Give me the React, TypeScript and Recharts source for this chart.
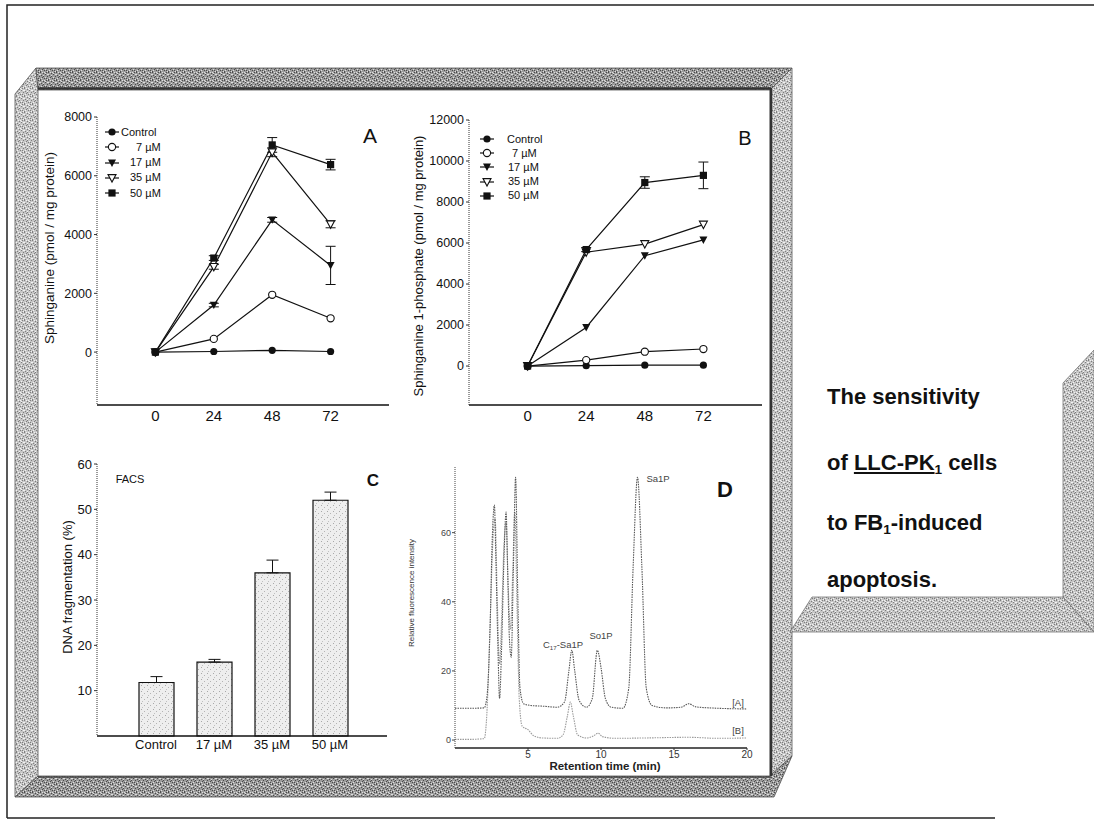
import React from 'react'
import { LineChart, Line, BarChart, Bar, XAxis, YAxis, ErrorBar } from 'recharts'

const FONT = 'Arial, "Liberation Sans", Helvetica, sans-serif'

// panels A and B: time course after FB1 (hours)
const hours = [0, 24, 48, 72]
const doseLabels = ['Control', '7 µM', '17 µM', '35 µM', '50 µM']
const doseKeys = ['ctrl', 'd7', 'd17', 'd35', 'd50']
const doseMarkers = ['dot', 'ring', 'tri', 'triOpen', 'square']

// sphinganine (pmol / mg protein)
const saControl = [0, 20, 60, 20]
const sa7 = [0, 450, 1950, 1150]
const sa17 = [0, 1600, 4500, 2950]
const sa35 = [0, 2900, 6800, 4350]
const sa50 = [0, 3200, 7050, 6380]
const sa17Err = [0, 60, 80, 650]
const sa35Err = [0, 80, 150, 120]
const sa50Err = [0, 80, 250, 180]

// sphinganine 1-phosphate (pmol / mg protein)
const s1pControl = [0, 20, 40, 40]
const s1p7 = [0, 290, 700, 830]
const s1p17 = [0, 1880, 5380, 6150]
const s1p35 = [0, 5550, 5950, 6900]
const s1p50 = [0, 5680, 8950, 9300]
const s1p50Err = [0, 100, 280, 650]

const yTicksA = [0, 2000, 4000, 6000, 8000]
const yTicksB = [0, 2000, 4000, 6000, 8000, 10000, 12000]

// panel C: FACS DNA fragmentation (%)
const facsGroups = ['Control', '17 µM', '35 µM', '50 µM']
const facsValues = [11.8, 16.3, 36, 52]
const facsErr = [1.3, 0.6, 2.8, 1.8]
const yTicksC = [10, 20, 30, 40, 50, 60]

// panel D: HPLC traces, retention time (min) vs relative fluorescence
const traceATime = [0, 1, 2.0, 2.2, 2.4, 2.55, 2.7, 2.8, 2.95, 3.05, 3.2, 3.35, 3.5, 3.6, 3.72, 3.85, 4.0, 4.15, 4.3, 4.45, 4.7, 5.2, 6.0, 7.0, 7.5, 7.8, 8.0, 8.2, 8.5, 9.0, 9.4, 9.75, 10.0, 10.3, 10.7, 11.5, 11.9, 12.2, 12.5, 12.8, 13.1, 13.5, 14.5, 15.5, 16.0, 16.5, 18.0, 20.0]
const traceAValue = [9.2, 9.2, 9.3, 13, 32, 58, 68, 52, 25, 12, 28, 52, 66, 50, 30, 24, 50, 76, 42, 15, 10.5, 10, 9.8, 9.5, 11, 20, 26, 20, 11.5, 9.5, 12, 26, 21, 12, 9.5, 9.2, 15, 50, 76, 50, 15, 10, 9.3, 9.5, 10.5, 9.6, 9.2, 9.0]
const traceBTime = [0, 1, 2.0, 2.2, 2.4, 2.6, 2.75, 2.9, 3.05, 3.2, 3.35, 3.5, 3.65, 3.8, 3.95, 4.1, 4.25, 4.4, 4.6, 5.0, 5.4, 6.0, 7.0, 7.4, 7.7, 7.9, 8.1, 8.4, 9.0, 9.5, 9.8, 10.1, 11.0, 13.0, 16.0, 18.0, 20.0]
const traceBValue = [0.2, 0.2, 0.4, 9, 33, 58, 64, 40, 22, 36, 56, 63, 44, 32, 48, 66, 38, 12, 4, 3, 1.2, 0.6, 0.5, 1.5, 7, 11, 7, 1.5, 0.6, 1.2, 2, 1, 0.5, 0.6, 0.8, 0.5, 0.6]

const rowsA = hours.map((h, i) => ({
  h, ctrl: saControl[i], d7: sa7[i], d17: sa17[i], d35: sa35[i], d50: sa50[i],
  d17e: sa17Err[i], d35e: sa35Err[i], d50e: sa50Err[i],
}))
const rowsB = hours.map((h, i) => ({
  h, ctrl: s1pControl[i], d7: s1p7[i], d17: s1p17[i], d35: s1p35[i], d50: s1p50[i],
  d50e: s1p50Err[i],
}))
const facsRows = facsGroups.map((g, i) => ({ g, v: facsValues[i], e: [0, facsErr[i]] }))
const traceA = traceATime.map((t, i) => ({ t, a: traceAValue[i] }))
const traceB = traceBTime.map((t, i) => ({ t, b: traceBValue[i] }))

const INK = '#111'

function Marker({ cx, cy, kind }: { cx?: number; cy?: number; kind: string }) {
  if (cx == null || cy == null) return null
  const r = 3.6
  if (kind === 'dot') return <circle cx={cx} cy={cy} r={r} fill={INK} />
  if (kind === 'ring') return <circle cx={cx} cy={cy} r={r} fill="#fff" stroke={INK} strokeWidth={1.1} />
  if (kind === 'square') return <rect x={cx - r} y={cy - r} width={2 * r} height={2 * r} fill={INK} />
  const pts = `${cx - 4},${cy - 3.4} ${cx + 4},${cy - 3.4} ${cx},${cy + 4}`
  if (kind === 'tri') return <polygon points={pts} fill={INK} />
  return <polygon points={pts} fill="#fff" stroke={INK} strokeWidth={1.1} />
}

function Txt({ x, y, size, bold, rotate, color, children }: any) {
  return (
    <div
      style={{
        position: 'absolute', left: x, top: y,
        transform: `translate(-50%, -50%)${rotate ? ' rotate(-90deg)' : ''}`,
        fontSize: size, fontWeight: bold ? 700 : 400, fontFamily: FONT,
        whiteSpace: 'nowrap', lineHeight: 1, color: color ?? INK,
      }}
    >
      {children}
    </div>
  )
}

function SeriesLegend({ x, y, rowH, indents }: { x: number; y: number; rowH: number; indents: number[] }) {
  return (
    <>
      {doseLabels.map((label, i) => (
        <div
          key={label}
          style={{ position: 'absolute', left: x, top: y + i * rowH - 6, height: 12, display: 'flex', alignItems: 'center' }}
        >
          <svg width={14} height={12} style={{ display: 'block' }}>
            <line x1={0} y1={6} x2={14} y2={6} stroke={INK} strokeWidth={1.2} />
            <Marker cx={7} cy={6} kind={doseMarkers[i]} />
          </svg>
          <span style={{ marginLeft: indents[i], fontSize: 11, fontFamily: FONT, lineHeight: 1, color: INK }}>{label}</span>
        </div>
      ))}
    </>
  )
}

const boxLine = { stroke: '#555', strokeDasharray: '1 1.5', strokeWidth: 0.8 }

function TimeCourse({ rows, left, top, margin, yWidth, yDomain, yTicks, errKeys }: any) {
  return (
    <div style={{ position: 'absolute', left, top }}>
      <LineChart width={380} height={335} data={rows} margin={margin}>
        <XAxis
          dataKey="h" type="number" domain={[-24, 96]} ticks={hours} height={25}
          tickLine={false} tickSize={3} tickMargin={2}
          axisLine={{ stroke: INK, strokeWidth: 1.4 }}
          tick={{ fontSize: 15, fill: INK, fontFamily: FONT }}
        />
        <XAxis xAxisId="top" orientation="top" dataKey="h" type="number" domain={[-24, 96]} height={0} tick={false} tickLine={false} axisLine={boxLine} />
        <YAxis
          type="number" domain={yDomain} ticks={yTicks} width={yWidth} allowDataOverflow
          tickSize={3} tickMargin={2}
          axisLine={{ stroke: '#333', strokeDasharray: '1 1' }} tickLine={{ stroke: '#333' }}
          tick={{ fontSize: 12.5, fill: INK, fontFamily: FONT }}
        />
        <YAxis yAxisId="right" orientation="right" type="number" domain={yDomain} width={0} tick={false} tickLine={false} axisLine={boxLine} />
        {doseKeys.map((k, i) => (
          <Line
            key={k}
            dataKey={k}
            stroke={INK}
            strokeWidth={1.2}
            isAnimationActive={false}
            activeDot={false}
            dot={(p: any) => <Marker key={`${k}-${p.index}`} cx={p.cx} cy={p.cy} kind={doseMarkers[i]} />}
          >
            {errKeys[k] ? (
              <ErrorBar dataKey={errKeys[k]} width={5} stroke={INK} strokeWidth={1} direction="y" />
            ) : null}
          </Line>
        ))}
      </LineChart>
    </div>
  )
}

function FacsChart() {
  return (
    <div style={{ position: 'absolute', left: 20, top: 450 }}>
      <BarChart width={380} height={320} data={facsRows} margin={{ top: 14, right: 13, bottom: 8, left: 20 }}>
        <XAxis
          dataKey="g" padding={{ left: 30, right: 28 }} height={26} interval={0}
          tickLine={false} tickSize={2} tickMargin={2}
          axisLine={{ stroke: INK, strokeWidth: 1.4 }}
          tick={{ fontSize: 13, fill: INK, fontFamily: FONT }}
        />
        <XAxis xAxisId="top" orientation="top" dataKey="g" height={0} tick={false} tickLine={false} axisLine={boxLine} />
        <YAxis
          type="number" domain={[0, 60]} ticks={yTicksC} width={57}
          tickSize={3} tickMargin={2}
          axisLine={{ stroke: '#333', strokeDasharray: '1 1' }} tickLine={{ stroke: '#333' }}
          tick={{ fontSize: 13, fill: INK, fontFamily: FONT }}
        />
        <YAxis yAxisId="right" orientation="right" domain={[0, 60]} width={0} tick={false} tickLine={false} axisLine={boxLine} />
        <Bar dataKey="v" barSize={35} fill="url(#stipple)" stroke={INK} strokeWidth={1.2} isAnimationActive={false}>
          <ErrorBar dataKey="e" width={6} stroke={INK} strokeWidth={1} direction="y" />
        </Bar>
      </BarChart>
    </div>
  )
}

function HplcChart() {
  return (
    <div style={{ position: 'absolute', left: 400, top: 450 }}>
      <LineChart width={370} height={325} margin={{ top: 17, right: 23, bottom: 4, left: 7 }}>
        <XAxis
          dataKey="t" type="number" domain={[0, 20]} ticks={[5, 10, 15, 20]} height={23} allowDataOverflow
          tickSize={2} tickMargin={1}
          axisLine={{ stroke: '#222', strokeWidth: 1.3 }} tickLine={{ stroke: '#333' }}
          tick={{ fontSize: 10, fill: '#333', fontFamily: FONT }}
        />
        <YAxis
          type="number" domain={[-2.3, 79]} ticks={[0, 20, 40, 60]} width={48} allowDataOverflow
          tickSize={3} tickMargin={1}
          axisLine={{ stroke: '#444', strokeDasharray: '1 1' }} tickLine={{ stroke: '#444' }}
          tick={{ fontSize: 9, fill: '#444', fontFamily: FONT }}
        />
        <Line data={traceB} dataKey="b" type="monotone" stroke="#9a9a9a" strokeWidth={1.1} strokeDasharray="1.5 1" dot={false} activeDot={false} isAnimationActive={false} />
        <Line data={traceA} dataKey="a" type="monotone" stroke="#555" strokeWidth={1.1} strokeDasharray="1.5 1" dot={false} activeDot={false} isAnimationActive={false} />
      </LineChart>
    </div>
  )
}

// speckle positions for the stone-like frame texture (one 8x8 tile)
const darkSpecks = [[0, 0], [3, 1], [6, 0], [1, 3], [5, 2], [7, 4], [2, 5], [4, 6], [0, 7], [6, 6], [3, 4]]
const lightSpecks = [[2, 0], [5, 1], [0, 2], [7, 2], [3, 3], [5, 5], [1, 6], [7, 7], [4, 0]]

function Frame() {
  return (
    <svg width={1094} height={821} style={{ position: 'absolute', left: 0, top: 0 }}>
      <defs>
        <pattern id="texDark" width="8" height="8" patternUnits="userSpaceOnUse">
          <rect width="8" height="8" fill="#9c9c9c" />
          {darkSpecks.map(([x, y]) => <rect key={`d${x}-${y}`} x={x} y={y} width="1" height="1" fill="#4c4c4c" />)}
          {lightSpecks.map(([x, y]) => <rect key={`l${x}-${y}`} x={x} y={y} width="1" height="1" fill="#dedede" />)}
        </pattern>
        <pattern id="texLight" width="8" height="8" patternUnits="userSpaceOnUse">
          <rect width="8" height="8" fill="#c6c6c6" />
          {darkSpecks.map(([x, y]) => <rect key={`d${x}-${y}`} x={x} y={y} width="1" height="1" fill="#7e7e7e" />)}
          {lightSpecks.map(([x, y]) => <rect key={`l${x}-${y}`} x={x} y={y} width="1" height="1" fill="#f2f2f2" />)}
        </pattern>
        <pattern id="stipple" width="6" height="6" patternUnits="userSpaceOnUse">
          <rect width="6" height="6" fill="#eeeeee" />
          <rect x="1" y="1" width="1" height="1" fill="#a8a8a8" />
          <rect x="4" y="3" width="1" height="1" fill="#b4b4b4" />
          <rect x="2" y="5" width="1" height="1" fill="#c0c0c0" />
        </pattern>
      </defs>
      {/* page border */}
      <path d="M7,818 V5 H1094" fill="none" stroke="#222" strokeWidth={1.5} />
      <path d="M7,818 H995" fill="none" stroke="#222" strokeWidth={1.5} />
      {/* bevelled frame around the figure */}
      <polygon points="15,94 36,68 38,90 38,776 15,797" fill="url(#texLight)" stroke="#555" strokeWidth={0.8} />
      <polygon points="36,68 792,68 770,90 38,90" fill="url(#texDark)" stroke="#555" strokeWidth={0.8} />
      <polygon points="770,90 792,68 792,756 770,776" fill="url(#texLight)" stroke="#555" strokeWidth={0.8} />
      <polygon points="15,797 38,776 770,776 792,756 774,797" fill="url(#texDark)" stroke="#555" strokeWidth={0.8} />
      <line x1={38} y1={88.5} x2={771} y2={88.5} stroke="#333" strokeWidth={2.5} />
      <line x1={771} y1={88} x2={771} y2={776} stroke="#333" strokeWidth={2.5} />
      <line x1={38} y1={777} x2={771} y2={777} stroke="#444" strokeWidth={1.5} />
      {/* bevel round the caption */}
      <polygon points="1063,383 1094,350 1094,632 1063,597" fill="url(#texLight)" stroke="#777" strokeWidth={0.8} />
      <polygon points="790,632 812,597 1063,597 1094,632" fill="url(#texLight)" stroke="#777" strokeWidth={0.8} />
    </svg>
  )
}

const sub = { fontSize: '0.62em', verticalAlign: '-0.3em' }

function Caption() {
  const line = (top: number) => ({
    position: 'absolute' as const, left: 827, top, fontSize: 22, fontWeight: 700,
    fontFamily: FONT, lineHeight: '22px', whiteSpace: 'nowrap' as const, color: '#111',
  })
  return (
    <>
      <div style={line(386)}>The sensitivity</div>
      <div style={line(452)}>
        of <span style={{ textDecoration: 'underline' }}>LLC-PK<span style={sub}>1</span></span> cells
      </div>
      <div style={line(512)}>
        to FB<span style={sub}>1</span>-induced
      </div>
      <div style={line(569)}>apoptosis.</div>
    </>
  )
}

export default function App() {
  return (
    <div style={{ position: 'absolute', left: 0, top: 0, width: 1094, height: 821, background: '#fff', overflow: 'hidden' }}>
      <Frame />

      <TimeCourse
        rows={rowsA} left={20} top={100} yWidth={52} yDomain={[-1800, 8000]} yTicks={yTicksA}
        margin={{ top: 17, right: 11, bottom: 5, left: 25 }}
        errKeys={{ d17: 'd17e', d35: 'd35e', d50: 'd50e' }}
      />
      <Txt x={50} y={248} size={13.5} rotate>Sphinganine (pmol / mg protein)</Txt>
      <Txt x={370} y={135} size={21}>A</Txt>
      <SeriesLegend x={105} y={132} rowH={15.3} indents={[2, 17, 11, 11, 11]} />

      <TimeCourse
        rows={rowsB} left={395} top={100} yWidth={56} yDomain={[-1900, 12000]} yTicks={yTicksB}
        margin={{ top: 20, right: 13, bottom: 5, left: 18 }}
        errKeys={{ d50: 'd50e' }}
      />
      <Txt x={418} y={266} size={13} rotate>Sphinganine 1-phosphate (pmol / mg protein)</Txt>
      <Txt x={745} y={138} size={20}>B</Txt>
      <SeriesLegend x={480} y={139} rowH={14.2} indents={[13, 18, 14, 14, 14]} />

      <FacsChart />
      <Txt x={67} y={587} size={13} rotate>DNA fragmentation (%)</Txt>
      <Txt x={130} y={479} size={11}>FACS</Txt>
      <Txt x={373} y={480} size={17} bold>C</Txt>

      <HplcChart />
      <Txt x={412} y={593} size={8} rotate color="#333">Relative fluorescence intensity</Txt>
      <Txt x={605} y={767} size={11.5} bold color="#222">Retention time (min)</Txt>
      <Txt x={725} y={490} size={22} bold>D</Txt>
      <Txt x={658} y={479} size={9.5} color="#444">Sa1P</Txt>
      <Txt x={601} y={636} size={9.5} color="#444">So1P</Txt>
      <Txt x={563} y={646} size={9.5} color="#444">C<span style={{ fontSize: '0.65em', verticalAlign: '-0.3em' }}>17</span>-Sa1P</Txt>
      <Txt x={738} y={703} size={9.5} color="#444">[A]</Txt>
      <Txt x={738} y={731} size={9.5} color="#444">[B]</Txt>

      <Caption />
    </div>
  )
}
